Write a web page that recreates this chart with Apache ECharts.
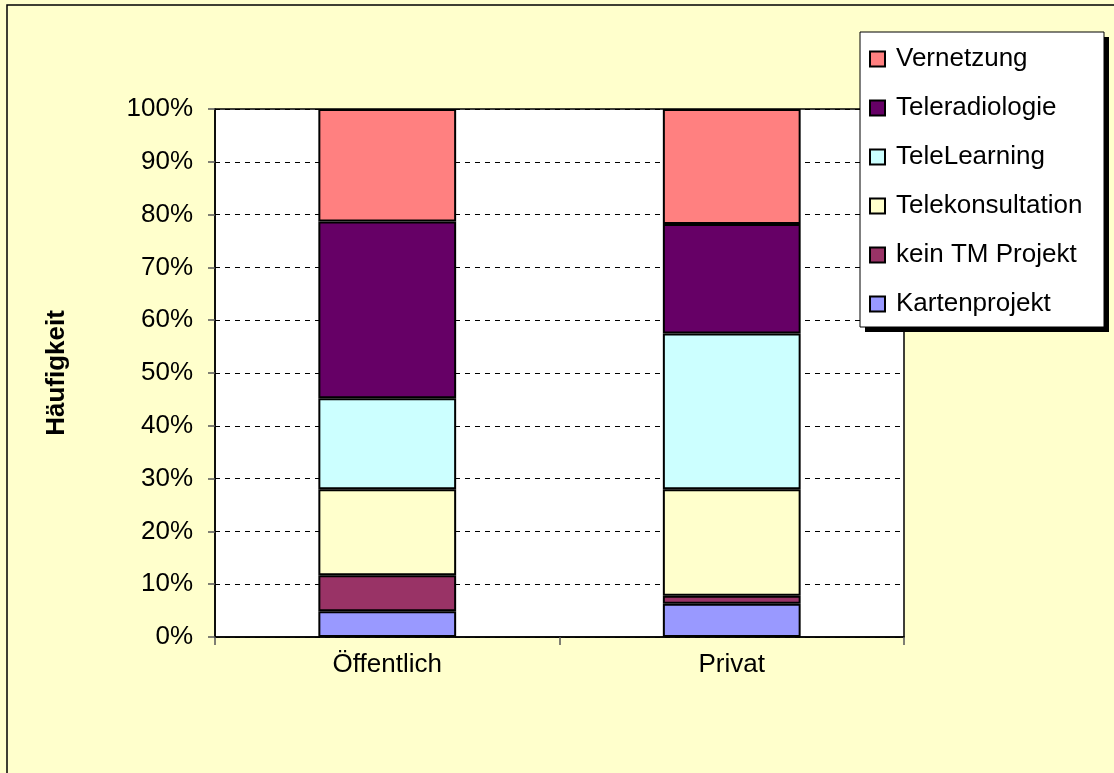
<!DOCTYPE html>
<html>
<head>
<meta charset="utf-8">
<script src="https://cdn.jsdelivr.net/npm/echarts@6/dist/echarts.min.js"></script>
<style>
  html, body { margin: 0; padding: 0; background: #ffffcc; }
  #chart { width: 1114px; height: 773px; }
</style>
</head>
<body>
<div id="chart"></div>
<script>
// Kategorien (x-Achse)
const categories = ['Öffentlich', 'Privat'];

// Anteile in % je Projektart (von unten nach oben gestapelt)
const kartenprojekt = [4.9, 6.3];
const keinTM = [6.8, 1.5];
const telekonsultation = [16.3, 20.2];
const teleLearning = [17.2, 29.5];
const teleradiologie = [33.5, 20.7];
const vernetzung = [21.3, 21.8];

const yTicks = [0, 10, 20, 30, 40, 50, 60, 70, 80, 90, 100];

const font = "'Liberation Sans', Arial, sans-serif";

const seriesList = [
  { name: 'Kartenprojekt', data: kartenprojekt, color: '#9999ff' },
  { name: 'kein TM Projekt', data: keinTM, color: '#993366' },
  { name: 'Telekonsultation', data: telekonsultation, color: '#ffffcc' },
  { name: 'TeleLearning', data: teleLearning, color: '#ccffff' },
  { name: 'Teleradiologie', data: teleradiologie, color: '#660066' },
  { name: 'Vernetzung', data: vernetzung, color: '#ff8080' }
];

const chart = echarts.init(document.getElementById('chart'));

chart.setOption({
  backgroundColor: '#ffffcc',
  animation: false,
  graphic: [
    // äußerer Rahmen
    {
      type: 'rect',
      z: -10,
      shape: { x: 7, y: 5, width: 1130, height: 800 },
      style: { fill: 'none', stroke: '#000', lineWidth: 1.5 }
    },
    // Schatten der Legende
    {
      type: 'rect',
      z: 0,
      shape: { x: 865, y: 37, width: 244, height: 295 },
      style: { fill: '#000' }
    },
    // Legendenkasten
    {
      type: 'rect',
      z: 1,
      shape: { x: 860, y: 32, width: 244, height: 295 },
      style: { fill: '#fff', stroke: '#000', lineWidth: 1 }
    }
  ],
  grid: {
    left: 215, top: 109, right: 210, bottom: 136,
    show: true, backgroundColor: '#fff', borderColor: '#000', borderWidth: 1.5,
    containLabel: false
  },
  legend: {
    data: seriesList.map(s => s.name).reverse(),
    orient: 'vertical',
    left: 869, top: 46,
    itemWidth: 15, itemHeight: 15,
    itemGap: 23,
    padding: 0,
    icon: 'rect',
    z: 5,
    textStyle: { fontFamily: font, fontSize: 26, color: '#000', lineHeight: 26, padding: [0, 0, 0, 6] }
  },
  xAxis: {
    type: 'category',
    data: categories,
    axisLine: { lineStyle: { color: '#000', width: 1.5 } },
    axisTick: { show: true, alignWithLabel: false, length: 8, lineStyle: { color: '#555', width: 1.5 } },
    axisLabel: { fontFamily: font, fontSize: 26, color: '#000', margin: 15 },
    splitLine: { show: false }
  },
  yAxis: {
    type: 'value',
    min: 0, max: 100, interval: 10,
    name: 'Häufigkeit',
    nameLocation: 'middle',
    nameGap: 145,
    nameTextStyle: { fontFamily: font, fontSize: 26, fontWeight: 'bold', color: '#000' },
    axisLine: { show: true, lineStyle: { color: '#000', width: 1.5 } },
    axisTick: { show: true, length: 7, lineStyle: { color: '#555', width: 1.5 } },
    axisLabel: {
      fontFamily: font, fontSize: 26, color: '#000', margin: 22,
      formatter: v => yTicks.includes(v) ? v + '%' : ''
    },
    splitLine: { show: true, lineStyle: { color: '#000', type: [5, 5], width: 1 } }
  },
  series: seriesList.map(s => ({
    name: s.name,
    type: 'bar',
    stack: 'total',
    barWidth: '40%',
    data: s.data,
    itemStyle: { color: s.color, borderColor: '#000', borderWidth: 2 }
  }))
});
</script>
</body>
</html>
